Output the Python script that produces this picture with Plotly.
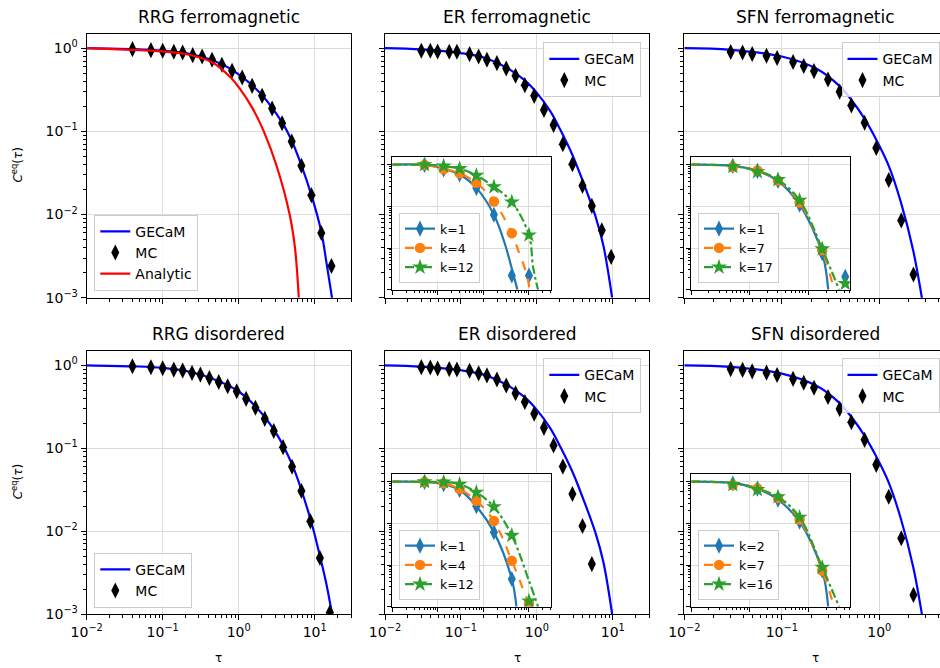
import plotly.graph_objects as go

# ---------------- data ----------------
# main panels: Monte Carlo points
rrg_f_tau = [0.040, 0.070, 0.100, 0.140, 0.183, 0.248, 0.330, 0.446, 0.600, 0.817,
             1.11, 1.50, 2.03, 2.75, 3.72, 4.98, 6.68, 9.04, 12.2, 16.6]
rrg_f_mc = [0.972, 0.946, 0.929, 0.904, 0.887, 0.824, 0.794, 0.724, 0.631, 0.534,
            0.444, 0.352, 0.267, 0.188, 0.125, 0.0755, 0.0385, 0.0171, 0.0060, 0.0024]
rrg_d_tau = [0.040, 0.070, 0.100, 0.140, 0.183, 0.243, 0.313, 0.411, 0.546, 0.716,
             0.942, 1.25, 1.66, 2.20, 2.89, 3.83, 5.03, 6.68, 8.77, 11.7, 15.8]
rrg_d_mc = [0.972, 0.946, 0.920, 0.887, 0.863, 0.809, 0.772, 0.704, 0.630, 0.559,
            0.487, 0.394, 0.307, 0.226, 0.161, 0.103, 0.0598, 0.0305, 0.0131, 0.00474, 0.00104]
er_tau = [0.0301, 0.0395, 0.0493, 0.0702, 0.0886, 0.130, 0.171, 0.220, 0.298, 0.395,
          0.524, 0.695, 0.923, 1.24, 1.66, 2.20, 2.94, 3.99, 5.30, 7.17, 9.51]
er_f_mc = [0.929, 0.929, 0.912, 0.904, 0.904, 0.847, 0.794, 0.724, 0.660, 0.570,
           0.465, 0.359, 0.267, 0.181, 0.119, 0.0701, 0.0403, 0.0221, 0.0127, 0.00648, 0.0031]
er_d_mc = [0.95, 0.94, 0.915, 0.90, 0.89, 0.86, 0.80, 0.755, 0.673, 0.57,
           0.46, 0.36, 0.26, 0.176, 0.108, 0.060, 0.028, 0.0115, 0.0040]
sfn_tau = [0.0299, 0.0396, 0.0497, 0.0697, 0.0895, 0.1305, 0.168, 0.214, 0.298, 0.392,
           0.517, 0.707, 0.931, 1.25, 1.68, 2.24]
sfn_f_mc = [0.90, 0.885, 0.85, 0.81, 0.76, 0.68, 0.61, 0.53, 0.42, 0.30,
            0.205, 0.127, 0.063, 0.026, 0.0085, 0.0019]
sfn_d_mc = [0.90, 0.88, 0.845, 0.815, 0.765, 0.685, 0.615, 0.535, 0.414, 0.298,
            0.206, 0.126, 0.063, 0.026, 0.0082, 0.0017]

# main panels: GECaM curves
rrg_f_g_tau = [0.01, 0.0403, 0.1, 0.248, 0.60, 1.106, 2.03, 3.72, 4.98, 6.68, 9.04, 12.2, 14.3, 16.9]
rrg_f_g = [1.0, 0.972, 0.929, 0.839, 0.642, 0.452, 0.272, 0.128, 0.077, 0.039, 0.0171, 0.0062, 0.0026, 0.00099]
rrg_d_g_tau = [0.01, 0.0403, 0.1, 0.243, 0.546, 0.942, 1.66, 2.89, 5.03, 8.77, 11.7, 14.1, 16.9]
rrg_d_g = [1.0, 0.972, 0.929, 0.824, 0.642, 0.50, 0.321, 0.169, 0.0638, 0.0140, 0.0050, 0.0024, 0.001]
er_f_g_tau = [0.01, 0.0301, 0.1, 0.199, 0.395, 0.695, 1.0, 1.50, 2.03, 2.94, 4.11, 5.92, 7.53, 9.8]
er_f_g = [1.0, 0.964, 0.871, 0.772, 0.586, 0.41, 0.29, 0.175, 0.105, 0.052, 0.024, 0.0095, 0.0042, 0.001]
er_d_g_tau = [0.01, 0.0301, 0.1, 0.199, 0.395, 0.695, 1.0, 1.50, 2.03, 2.94, 4.11, 5.92, 7.53, 9.8]
er_d_g = [1.0, 0.964, 0.871, 0.772, 0.586, 0.41, 0.29, 0.175, 0.105, 0.052, 0.024, 0.0095, 0.0042, 0.001]
sfn_f_g_tau = [0.01, 0.0298, 0.1, 0.225, 0.389, 0.525, 0.702, 0.925, 1.25, 1.67, 2.23, 2.74]
sfn_f_g = [1.0, 0.955, 0.794, 0.569, 0.352, 0.233, 0.143, 0.0805, 0.0385, 0.0139, 0.00366, 0.00098]
sfn_d_g_tau = [0.01, 0.0298, 0.1, 0.225, 0.389, 0.525, 0.702, 0.925, 1.25, 1.67, 2.23, 2.74]
sfn_d_g = [1.0, 0.955, 0.794, 0.569, 0.352, 0.233, 0.143, 0.0805, 0.0385, 0.0139, 0.00366, 0.00098]

# RRG ferromagnetic analytic curve
analytic_tau = [0.01, 0.1, 0.2, 0.447, 0.794, 1.0, 1.514, 2.138, 3.162, 4.677, 5.495, 6.166]
analytic = [1.0, 0.912, 0.851, 0.676, 0.437, 0.339, 0.19, 0.1, 0.038, 0.01, 0.00398, 0.001]

# insets: marker abscissae
inset_tau = [0.051, 0.134, 0.30, 0.70, 1.70, 4.2, 10.0]

# ER ferromagnetic inset
er_f_k = ["k=1", "k=4", "k=12"]
er_f_pts = [[0.98, 0.77, 0.58, 0.277, 0.063, 0.0022, 0.0022],
            [0.98, 0.77, 0.62, 0.367, 0.131, 0.0226],
            [0.99, 0.925, 0.80, 0.551, 0.293, 0.127, 0.0205]]
er_f_ln_tau = [[0.01, 0.051, 0.134, 0.30, 0.70, 1.70, 2.92, 4.46, 5.57],
               [0.01, 0.051, 0.134, 0.30, 0.70, 1.70, 4.2, 5.75, 8.8, 10.4],
               [0.01, 0.051, 0.134, 0.30, 0.70, 1.70, 4.2, 10.0, 12.3, 15.8]]
er_f_ln = [[1.0, 0.98, 0.80, 0.58, 0.277, 0.063, 0.0132, 0.0025, 0.001],
           [1.0, 0.98, 0.80, 0.62, 0.367, 0.131, 0.0226, 0.0091, 0.00245, 0.001],
           [1.0, 0.99, 0.925, 0.80, 0.551, 0.293, 0.127, 0.0205, 0.0035, 0.001]]

# ER disordered inset
er_d_k = ["k=1", "k=4", "k=12"]
er_d_pts = [[0.98, 0.865, 0.63, 0.258, 0.0615, 0.0046],
            [0.98, 0.915, 0.665, 0.347, 0.114, 0.0127, 0.0012],
            [0.99, 0.98, 0.865, 0.554, 0.248, 0.0512, 0.00137]]
er_d_ln_tau = [[0.01, 0.051, 0.134, 0.30, 0.70, 1.70, 4.2, 5.3],
               [0.01, 0.051, 0.134, 0.30, 0.70, 1.70, 4.2, 10.4],
               [0.01, 0.051, 0.134, 0.30, 0.70, 1.70, 4.2, 10.0, 15.8]]
er_d_ln = [[1.0, 0.98, 0.865, 0.63, 0.258, 0.0615, 0.0046, 0.001],
           [1.0, 0.98, 0.915, 0.665, 0.347, 0.114, 0.0127, 0.001],
           [1.0, 0.99, 0.98, 0.865, 0.554, 0.248, 0.0512, 0.0042, 0.001]]

# SFN ferromagnetic inset
sfn_f_k = ["k=1", "k=7", "k=17"]
sfn_f_pts = [[0.93, 0.71, 0.405, 0.11, 0.0075, 0.00205],
             [0.88, 0.72, 0.415, 0.123, 0.0088],
             [0.90, 0.67, 0.435, 0.139, 0.0095, 0.0014]]
sfn_f_ln_tau = [[0.01, 0.051, 0.134, 0.30, 0.70, 1.70, 2.15],
                [0.01, 0.051, 0.134, 0.30, 0.70, 1.70, 2.71],
                [0.01, 0.051, 0.134, 0.30, 0.70, 1.70, 3.3]]
sfn_f_ln = [[1.0, 0.93, 0.71, 0.405, 0.11, 0.0075, 0.001],
            [1.0, 0.93, 0.72, 0.415, 0.123, 0.0088, 0.001],
            [1.0, 0.93, 0.70, 0.435, 0.139, 0.0095, 0.001]]

# SFN disordered inset
sfn_d_k = ["k=2", "k=7", "k=16"]
sfn_d_pts = [[0.90, 0.68, 0.37, 0.11, 0.0074],
             [0.83, 0.69, 0.405, 0.124, 0.0074],
             [0.85, 0.64, 0.433, 0.139, 0.0088]]
sfn_d_ln_tau = [[0.01, 0.051, 0.134, 0.30, 0.70, 1.70, 2.15],
                [0.01, 0.051, 0.134, 0.30, 0.70, 1.70, 2.71],
                [0.01, 0.051, 0.134, 0.30, 0.70, 1.70, 3.3]]
sfn_d_ln = [[1.0, 0.92, 0.68, 0.37, 0.11, 0.0074, 0.001],
            [1.0, 0.92, 0.69, 0.405, 0.124, 0.0074, 0.001],
            [1.0, 0.92, 0.66, 0.433, 0.139, 0.0088, 0.001]]

titles = ["RRG ferromagnetic", "ER ferromagnetic", "SFN ferromagnetic",
          "RRG disordered", "ER disordered", "SFN disordered"]

# ---------------- layout helpers ----------------
W, H = 940, 668
FONT = "DejaVu Sans"


def fx(p):
    return p / W


def fy(p):
    return 1 - p / H


col_px = [(86.7, 351.0), (385.0, 649.0), (684.3, 940.0)]
row_px = [(33.5, 297.7), (350.7, 614.0)]
col_xrange = [[-2, 1.477], [-2, 1.477], [-2, 0.6226]]
yrange = [-3, 0.176]

sup = {-3: "−3", -2: "−2", -1: "−1", 0: "0", 1: "1"}


def log_axis(exps, rng, domain, labels, anchor, mirror=True, ticklen=5, minorlen=3):
    major = [10.0 ** e for e in exps]
    minor = [m * 10.0 ** e for e in range(exps[0] - 1, exps[-1] + 1) for m in range(2, 10)]
    return dict(
        type="log", range=rng, domain=domain, anchor=anchor, automargin=False,
        tickmode="array", tickvals=major,
        ticktext=["10<sup>%s</sup>" % sup[e] for e in exps],
        showticklabels=labels, ticks="outside", ticklen=ticklen, tickwidth=1.1,
        tickcolor="black",
        tickfont=dict(family=FONT, size=14, color="black"),
        showline=True, linecolor="black", linewidth=1.1, mirror=mirror,
        showgrid=True, gridcolor="#dcdcdc", gridwidth=1, zeroline=False,
        minor=dict(tickmode="array", tickvals=minor, ticks="outside", ticklen=minorlen,
                   tickwidth=0.8, tickcolor="black", showgrid=False),
    )


layout = dict(width=W, height=H, margin=dict(l=0, r=0, t=0, b=0, autoexpand=False),
              paper_bgcolor="white", plot_bgcolor="white", showlegend=True,
              font=dict(family=FONT, color="black"))

annotations = []
for i in range(6):
    r, c = divmod(i, 3)
    n = i + 1
    xs = "" if n == 1 else str(n)
    xdom = [fx(col_px[c][0]), fx(col_px[c][1])]
    ydom = [fy(row_px[r][1]), fy(row_px[r][0])]
    xexps = [-2, -1, 0, 1] if c < 2 else [-2, -1, 0]
    layout["xaxis" + xs] = log_axis(xexps, col_xrange[c], xdom, r == 1, "y" + xs)
    layout["yaxis" + xs] = log_axis([-3, -2, -1, 0], yrange, ydom, c == 0, "x" + xs,
                                    mirror=(c < 2))
    # title
    cx = (col_px[c][0] + (col_px[c][1] if c < 2 else 946.6)) / 2
    annotations.append(dict(text=titles[i], x=fx(cx), y=ydom[1], xref="paper", yref="paper",
                            xanchor="center", yanchor="bottom", yshift=5, showarrow=False,
                            font=dict(family=FONT, size=17, color="black")))

# x labels and y labels
for c in range(3):
    cx = (col_px[c][0] + (col_px[c][1] if c < 2 else 946.6)) / 2
    annotations.append(dict(text="τ", x=fx(cx), y=fy(658), xref="paper", yref="paper",
                            xanchor="center", yanchor="middle", showarrow=False,
                            font=dict(family=FONT, size=12, color="black")))
for r in range(2):
    cy = (row_px[r][0] + row_px[r][1]) / 2
    annotations.append(dict(text="<i>C</i><sup>eq</sup>(<i>τ</i>)", x=fx(17), y=fy(cy),
                            xref="paper", yref="paper", xanchor="center", yanchor="middle",
                            textangle=-90, showarrow=False,
                            font=dict(family=FONT, size=12, color="black")))

# insets: axes 7..10
inset_px = {7: ((392.3, 550.7), (157.3, 289.7), [-2, 1.477], [-2, -1, 0, 1]),
            8: ((691.3, 849.7), (157.3, 289.7), [-2, 0.699], [-2, -1, 0]),
            9: ((392.3, 550.7), (474.3, 606.7), [-2, 1.477], [-2, -1, 0, 1]),
            10: ((691.3, 849.7), (474.3, 606.7), [-2, 0.699], [-2, -1, 0])}
shapes = []
for n, (xp, yp, xr, xe) in inset_px.items():
    xa = log_axis(xe, xr, [fx(xp[0]), fx(xp[1])], False, "y%d" % n, ticklen=4, minorlen=2.5)
    ya = log_axis([-3, -2, -1, 0], yrange, [fy(yp[1]), fy(yp[0])], False, "x%d" % n,
                  ticklen=4, minorlen=2.5)
    layout["xaxis%d" % n] = xa
    layout["yaxis%d" % n] = ya
    shapes.append(dict(type="rect", xref="x%d" % n, yref="y%d" % n, x0=1e-5, x1=1e5,
                       y0=1e-6, y1=1e3, fillcolor="white", line=dict(width=0), layer="below"))

layout["annotations"] = annotations
layout["shapes"] = shapes

# legends
main_leg_pos = {1: (94.3, 290.7, "left", "bottom"), 2: (641.3, 42.3, "right", "top"),
                3: (939.5, 42.3, "right", "top"), 4: (94.3, 607.7, "left", "bottom"),
                5: (641.3, 358.3, "right", "top"), 6: (939.5, 358.3, "right", "top")}
for n, (lx, ly, xa, ya) in main_leg_pos.items():
    key = "legend" if n == 1 else "legend%d" % n
    layout[key] = dict(x=fx(lx), y=fy(ly), xanchor=xa, yanchor=ya, xref="paper", yref="paper",
                       bgcolor="rgba(255,255,255,0.8)", bordercolor="#cccccc", borderwidth=1,
                       font=dict(family=FONT, size=14, color="black"), tracegroupgap=0,
                       itemwidth=30)
inset_leg_pos = {7: (399, 283), 8: (698, 283), 9: (399, 600), 10: (698, 600)}
for n, (lx, ly) in inset_leg_pos.items():
    layout["legend%d" % n] = dict(x=fx(lx), y=fy(ly), xanchor="left", yanchor="bottom",
                                  xref="paper", yref="paper",
                                  bgcolor="rgba(255,255,255,0.8)", bordercolor="#cccccc",
                                  borderwidth=1, font=dict(family=FONT, size=12.5, color="black"),
                                  tracegroupgap=0, itemwidth=30)

fig = go.Figure(layout=layout)


def ax(n):
    return ("x" if n == 1 else "x%d" % n), ("y" if n == 1 else "y%d" % n)


def leg(n):
    return "legend" if n == 1 else "legend%d" % n


main_data = {1: (rrg_f_g_tau, rrg_f_g, rrg_f_tau, rrg_f_mc),
             2: (er_f_g_tau, er_f_g, er_tau, er_f_mc),
             3: (sfn_f_g_tau, sfn_f_g, sfn_tau, sfn_f_mc),
             4: (rrg_d_g_tau, rrg_d_g, rrg_d_tau, rrg_d_mc),
             5: (er_d_g_tau, er_d_g, er_tau[:len(er_d_mc)], er_d_mc),
             6: (sfn_d_g_tau, sfn_d_g, sfn_tau, sfn_d_mc)}
for n, (gt, gv, mt, mv) in main_data.items():
    xa, ya = ax(n)
    fig.add_trace(go.Scatter(x=gt, y=gv, mode="lines", name="GECaM", xaxis=xa, yaxis=ya,
                             line=dict(color="blue", width=2.2, shape="spline", smoothing=1.0),
                             legend=leg(n)))
    fig.add_trace(go.Scatter(x=mt, y=mv, mode="markers", name="MC", xaxis=xa, yaxis=ya,
                             marker=dict(symbol="diamond-tall", size=11.5, color="black"),
                             legend=leg(n)))
    if n == 1:
        fig.add_trace(go.Scatter(x=analytic_tau, y=analytic, mode="lines", name="Analytic",
                                 xaxis=xa, yaxis=ya,
                                 line=dict(color="red", width=2.2, shape="spline", smoothing=1.0),
                                 legend=leg(n)))

k_colors = ["#1f77b4", "#ff7f0e", "#2ca02c"]
k_symbols = ["diamond-tall", "circle", "star"]
k_sizes = [11.5, 10.5, 12]
k_dash = ["solid", "dash", "dashdot"]
inset_data = {7: (er_f_k, er_f_pts, er_f_ln_tau, er_f_ln),
              8: (sfn_f_k, sfn_f_pts, sfn_f_ln_tau, sfn_f_ln),
              9: (er_d_k, er_d_pts, er_d_ln_tau, er_d_ln),
              10: (sfn_d_k, sfn_d_pts, sfn_d_ln_tau, sfn_d_ln)}
for n, (labels, pts, lnt, lnv) in inset_data.items():
    xa, ya = "x%d" % n, "y%d" % n
    for j in range(3):
        fig.add_trace(go.Scatter(x=lnt[j], y=lnv[j], mode="lines", xaxis=xa, yaxis=ya,
                                 showlegend=False, legend="legend%d" % n,
                                 line=dict(color=k_colors[j], width=2.2, dash=k_dash[j],
                                           shape="spline", smoothing=1.0)))
        fig.add_trace(go.Scatter(x=inset_tau[:len(pts[j])], y=pts[j], mode="markers",
                                 xaxis=xa, yaxis=ya, showlegend=False, legend="legend%d" % n,
                                 marker=dict(symbol=k_symbols[j], size=k_sizes[j],
                                             color=k_colors[j])))
    for j in range(3):
        fig.add_trace(go.Scatter(x=[None], y=[None], mode="lines+markers", name=labels[j],
                                 xaxis=xa, yaxis=ya, legend="legend%d" % n,
                                 line=dict(color=k_colors[j], width=2.2, dash=k_dash[j]),
                                 marker=dict(symbol=k_symbols[j], size=k_sizes[j],
                                             color=k_colors[j])))

fig.write_html("out.html", config={"displayModeBar": False},
               post_script="document.body.style.margin='0';")
